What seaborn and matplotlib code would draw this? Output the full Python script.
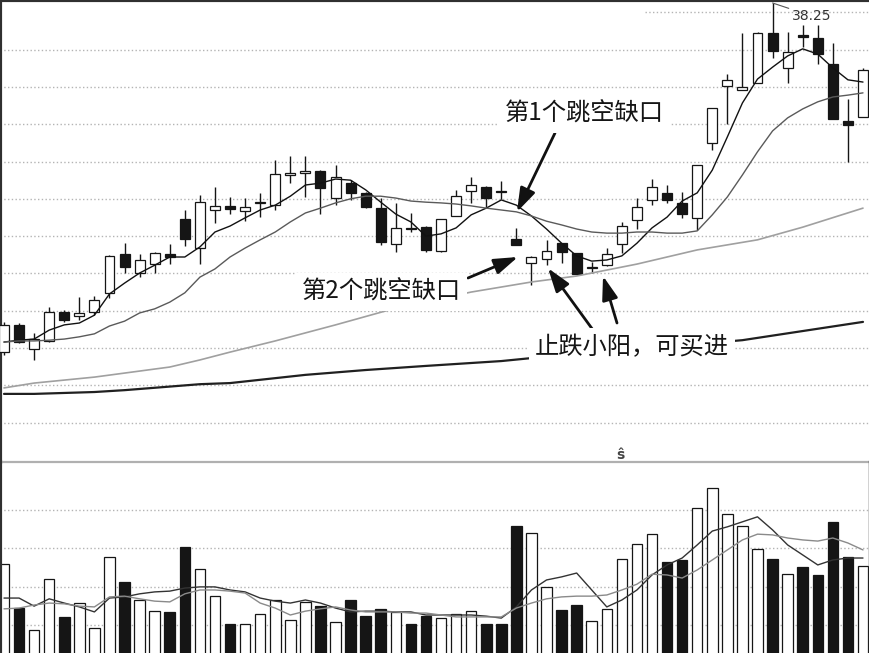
import numpy as np
import matplotlib
matplotlib.use("Agg")
import matplotlib.pyplot as plt
import seaborn as sns

# K线数据（价格），按交易日顺序
opens = [28.89, 29.62, 28.97, 29.19, 29.97, 29.86, 29.97, 30.47, 31.52, 31.01,
         31.25, 31.52, 32.46, 31.68, 32.70, 32.81, 32.67, 32.89, 32.83, 33.64,
         33.69, 33.75, 33.02, 33.42, 33.16, 32.75, 31.79, 32.22, 32.24, 31.60,
         32.54, 33.21, 33.32, 33.21, 31.92, 31.28, 31.39, 31.82, 31.55, 31.14,
         31.23, 31.79, 32.43, 32.97, 33.16, 32.89, 32.49, 34.50, 36.02, 35.92,
         36.10, 37.45, 36.51, 37.38, 37.31, 36.61, 35.09, 35.19]
highs = [29.70, 29.67, 29.40, 30.10, 30.02, 30.37, 30.39, 31.49, 31.82, 31.52,
         31.57, 31.79, 32.70, 33.10, 33.32, 33.05, 33.02, 33.16, 34.04, 34.15,
         34.15, 33.77, 33.91, 33.50, 33.18, 33.02, 32.89, 32.62, 32.27, 32.46,
         33.24, 33.58, 33.35, 33.48, 32.22, 31.47, 31.90, 31.82, 31.55, 31.31,
         31.68, 32.38, 33.02, 33.53, 33.37, 33.18, 33.91, 35.43, 36.35, 37.45,
         37.47, 38.25, 37.47, 37.66, 37.66, 37.18, 35.68, 36.51]
lows = [28.81, 29.13, 28.68, 29.16, 29.70, 29.75, 29.88, 30.34, 31.01, 30.90,
        31.01, 31.25, 31.73, 31.25, 32.35, 32.59, 32.40, 32.51, 32.70, 33.42,
        33.05, 32.59, 32.83, 32.97, 32.75, 31.76, 31.57, 32.11, 31.57, 31.57,
        32.54, 32.89, 32.78, 32.99, 31.76, 30.69, 31.23, 31.28, 30.96, 31.01,
        31.20, 31.55, 32.19, 32.83, 32.89, 32.49, 32.16, 34.31, 35.01, 35.92,
        36.10, 36.77, 36.10, 37.07, 36.61, 35.14, 33.99, 35.19]
closes = [29.62, 29.16, 29.24, 29.97, 29.75, 29.94, 30.29, 31.47, 31.17, 31.36,
          31.55, 31.44, 31.92, 32.91, 32.81, 32.73, 32.78, 32.91, 33.66, 33.69,
          33.75, 33.29, 33.58, 33.16, 32.78, 31.84, 32.22, 32.19, 31.63, 32.46,
          33.08, 33.37, 33.02, 33.18, 31.76, 31.44, 31.60, 31.57, 30.98, 31.17,
          31.52, 32.27, 32.78, 33.32, 32.97, 32.59, 33.91, 35.43, 36.19, 36.00,
          37.45, 36.96, 36.94, 37.35, 36.88, 35.14, 34.98, 36.45]

# 均线
ma5 = [29.16, 29.21, 29.24, 29.48, 29.62, 29.67, 29.88, 30.45, 30.74, 31.01,
       31.22, 31.44, 31.44, 31.71, 32.11, 32.27, 32.49, 32.70, 32.83, 33.07,
       33.37, 33.42, 33.53, 33.50, 33.24, 32.91, 32.59, 32.38, 32.00, 32.06,
       32.22, 32.57, 32.75, 32.97, 32.83, 32.54, 32.19, 31.81, 31.47, 31.33,
       31.36, 31.47, 31.81, 32.22, 32.51, 32.94, 33.16, 33.77, 34.66, 35.57,
       36.21, 36.53, 36.83, 37.02, 36.88, 36.51, 36.19, 36.13]
ma10 = [29.16, 29.19, 29.19, 29.21, 29.24, 29.30, 29.38, 29.59, 29.72, 29.94,
        30.05, 30.23, 30.48, 30.90, 31.12, 31.44, 31.68, 31.90, 32.11, 32.38,
        32.62, 32.75, 32.89, 33.00, 33.07, 33.07, 33.02, 32.94, 32.91, 32.89,
        32.86, 32.81, 32.75, 32.70, 32.65, 32.54, 32.40, 32.30, 32.19, 32.11,
        32.08, 32.08, 32.11, 32.11, 32.08, 32.08, 32.14, 32.57, 33.05, 33.64,
        34.26, 34.82, 35.17, 35.41, 35.60, 35.73, 35.78, 35.84]
ma30_day = [0, 2, 6, 11, 13, 15, 18, 22, 26, 31, 35, 38, 42, 46, 50, 53, 57]
ma30 = [27.93, 28.06, 28.22, 28.49, 28.68, 28.89, 29.19, 29.62, 30.07, 30.50,
        30.77, 30.93, 31.25, 31.63, 31.90, 32.24, 32.75]
ma60_day = [0, 2, 6, 8, 13, 15, 20, 24, 28, 33, 35, 49, 57]
ma60 = [27.77, 27.77, 27.82, 27.87, 28.03, 28.06, 28.28, 28.41, 28.52, 28.65,
        28.73, 29.21, 29.70]

# 成交量
volume = [2.58, 1.43, 0.87, 2.19, 1.22, 1.56, 0.93, 2.77, 2.12, 1.65,
          1.37, 1.35, 3.02, 2.45, 1.75, 1.02, 1.02, 1.28, 1.65, 1.13,
          1.59, 1.50, 1.09, 1.65, 1.24, 1.42, 1.33, 1.02, 1.24, 1.17,
          1.28, 1.37, 1.02, 1.02, 3.57, 3.40, 1.99, 1.39, 1.52, 1.10,
          1.42, 2.71, 3.10, 3.36, 2.64, 2.69, 4.05, 4.55, 3.88, 3.57,
          2.97, 2.71, 2.32, 2.50, 2.30, 3.67, 2.77, 2.53]
vol_ma5 = [1.70, 1.70, 1.49, 1.68, 1.57, 1.47, 1.34, 1.70, 1.73, 1.81,
           1.86, 1.88, 1.96, 1.99, 1.99, 1.91, 1.86, 1.70, 1.62, 1.57,
           1.65, 1.57, 1.44, 1.34, 1.36, 1.36, 1.34, 1.34, 1.26, 1.26,
           1.26, 1.26, 1.23, 1.18, 1.47, 1.91, 2.17, 2.25, 2.35, 1.91,
           1.47, 1.65, 1.91, 2.30, 2.56, 2.74, 3.08, 3.44, 3.55, 3.68,
           3.81, 3.47, 3.08, 2.82, 2.56, 2.69, 2.74, 2.74]
vol_ma10 = [1.42, 1.44, 1.52, 1.57, 1.55, 1.49, 1.47, 1.73, 1.75, 1.68,
            1.62, 1.60, 1.81, 1.91, 1.91, 1.88, 1.83, 1.57, 1.44, 1.26,
            1.36, 1.42, 1.47, 1.39, 1.34, 1.34, 1.34, 1.31, 1.31, 1.26,
            1.21, 1.21, 1.21, 1.21, 1.44, 1.57, 1.68, 1.73, 1.75, 1.75,
            1.78, 1.91, 2.06, 2.32, 2.30, 2.22, 2.43, 2.69, 2.95, 3.21,
            3.36, 3.34, 3.26, 3.21, 3.18, 3.26, 3.13, 2.95]

price_grid = [27, 28, 29, 30, 31, 32, 33, 34, 35, 36, 37]
vol_grid = [1, 2, 3, 4]

sns.set_style("white")
plt.rcParams["font.family"] = ["Noto Sans CJK SC", "DejaVu Sans"]

W, H = 870, 653
fig = plt.figure(figsize=(W / 100, H / 100), dpi=100)
split = 191 / H
ax = fig.add_axes([0, split, 1, 1 - split])
axv = fig.add_axes([0, 0, 1, split], sharex=ax)
axv.patch.set_alpha(0)

day = np.arange(len(opens))
o = np.array(opens)
c = np.array(closes)
up = c >= o
fill = np.where(up, "white", "#151515")

dots = dict(color="#b4b4b4", lw=1.0, linestyle=(0, (1.0, 1.7)), zorder=0)
for g in price_grid:
    ax.axhline(g, **dots)
ax.axhline(38, xmin=645 / W, **dots)
for g in vol_grid:
    axv.axhline(g, **dots)

# K线
ax.vlines(day, lows, highs, color="#151515", lw=1.0, zorder=2)
ax.bar(day, np.abs(c - o), bottom=np.minimum(o, c), width=0.66,
       color=fill, edgecolor="#151515", linewidth=0.9, zorder=3)

sns.lineplot(x=day, y=ma5, ax=ax, color="#111111", lw=1.0, zorder=4)
sns.lineplot(x=day, y=ma10, ax=ax, color="#5a5a5a", lw=1.0, zorder=4)
sns.lineplot(x=ma30_day, y=ma30, ax=ax, color="#a0a0a0", lw=1.2, zorder=4)
sns.lineplot(x=ma60_day, y=ma60, ax=ax, color="#202020", lw=1.6, zorder=4)

# 成交量
axv.bar(day, volume, width=0.7, color=fill, edgecolor="#151515",
        linewidth=0.9, zorder=2)
sns.lineplot(x=day, y=vol_ma5, ax=axv, color="#333333", lw=1.0, zorder=3)
sns.lineplot(x=day, y=vol_ma10, ax=axv, color="#8a8a8a", lw=1.0, zorder=3)

ax.set_xlim(-0.265, 57.465)
ax.set_ylim(25.944, 38.33)
axv.set_ylim(0.273, 5.234)

for a in (ax, axv):
    a.set_xticks([])
    a.set_yticks([])
    a.set_xlabel("")
    a.set_ylabel("")
    for s in a.spines.values():
        s.set_visible(False)
    a.spines["left"].set_visible(True)
    a.spines["left"].set_color("#303030")
    a.spines["left"].set_linewidth(3)
ax.spines["top"].set_visible(True)
ax.spines["top"].set_color("#303030")
ax.spines["top"].set_linewidth(3)
ax.spines["bottom"].set_visible(True)
ax.spines["bottom"].set_color("#b0b0b0")
ax.spines["bottom"].set_linewidth(1.6)
axv.spines["right"].set_visible(True)
axv.spines["right"].set_color("#404040")
axv.spines["right"].set_linewidth(2.5)

# 标注
box = dict(boxstyle="square,pad=0.25", fc="white", ec="none")
txt = dict(fontsize=17.5, color="#151515", ha="center", va="center",
           zorder=10, bbox=box)
fig.text(584 / W, 1 - 114 / H, "第1个跳空缺口", **txt)
fig.text(381 / W, 1 - 292 / H, "第2个跳空缺口", **txt)
fig.text(632 / W, 1 - 347 / H, "止跌小阳，可买进", **txt)

arrow = dict(arrowstyle="-|>,head_length=0.9,head_width=0.3", lw=2.0,
             color="#111111", shrinkA=0, shrinkB=0, mutation_scale=16)
ax.annotate("", xy=(34.04, 32.65), xytext=(555, H - 133),
            textcoords="figure pixels", arrowprops=arrow, zorder=8)
ax.annotate("", xy=(34.1, 31.44), xytext=(468, H - 278),
            textcoords="figure pixels", arrowprops=arrow, zorder=8)
ax.annotate("", xy=(36.1, 31.14), xytext=(593, H - 330),
            textcoords="figure pixels", arrowprops=arrow, zorder=8)
ax.annotate("", xy=(39.75, 30.93), xytext=(617, H - 323),
            textcoords="figure pixels", arrowprops=arrow, zorder=8)

top = int(np.argmax(highs))
ax.annotate(f"{highs[top]:.2f}", xy=(top, highs[top]), xytext=(792, H - 16),
            textcoords="figure pixels", ha="left", va="center", fontsize=10,
            color="#333333", family="DejaVu Sans",
            arrowprops=dict(arrowstyle="-", lw=0.8, color="#555555",
                            shrinkA=0, shrinkB=0))
fig.text(620 / W, 1 - 455 / H, "ŝ", ha="center", va="center", fontsize=10,
         color="#444444", family="DejaVu Sans", weight="bold")

fig.savefig("out.png", dpi=100)
